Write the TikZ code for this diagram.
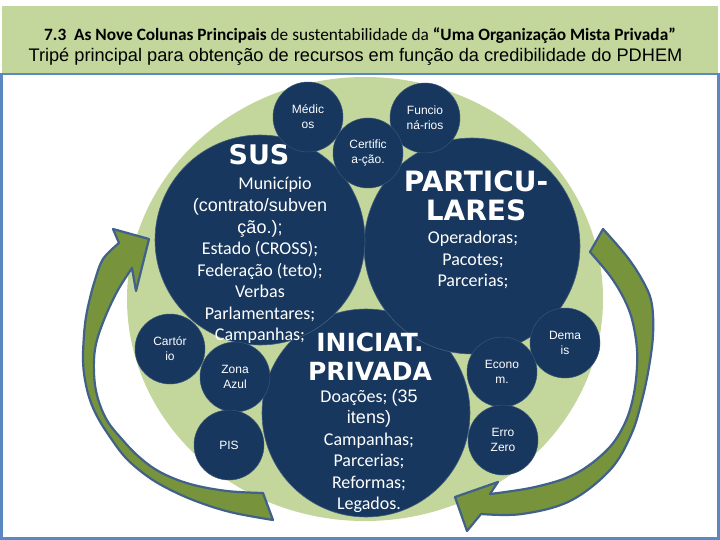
\documentclass[tikz,border=0pt]{standalone}
\usepackage{fontspec}
\setmainfont{Carlito}
\newfontfamily\arial{Liberation Sans}
\newfontfamily\heavy{DejaVu Sans}
\definecolor{hdrgreen}{HTML}{C3D69B}
\definecolor{navy}{HTML}{17375E}
\definecolor{olive}{HTML}{77933C}
\definecolor{arrowedge}{HTML}{41618A}
\definecolor{frameblue}{HTML}{5B88C0}
\tikzset{
  bigc/.style={circle, fill=navy, draw=navy!80!white, line width=0.6pt, inner sep=0pt, minimum size=#1},
  smallc/.style={circle, fill=navy, draw=navy!85!white, line width=0.5pt, inner sep=0pt, minimum size=70pt,
    text=white, align=center, font=\arial\fontsize{12}{15}\selectfont},
  bodytxt/.style={text=white, align=center, inner sep=0pt, font=\fontsize{18}{21.5}\selectfont},
  ttltxt/.style={text=white, align=center, inner sep=0pt, font=\heavy\bfseries\fontsize{#1}{29}\selectfont},
  bigarrow/.style={fill=olive, draw=arrowedge, line width=2.2pt, line join=round},
}
\begin{document}
\begin{tikzpicture}[x=1pt, y=-1pt]
\useasboundingbox (0,0) rectangle (720,540);
\fill[white] (0,0) rectangle (720,540);
% header
\fill[hdrgreen] (2,6) rectangle (718,73);
\node[inner sep=0pt, font=\fontsize{17.3}{19}\selectfont] (title1) at (360,36)
  {\textbf{7.3\ \ As Nove Colunas Principais} de sustentabilidade da \textbf{“Uma Organização Mista Privada”}};
\node[inner sep=0pt, font=\arial\fontsize{18.2}{20}\selectfont] (title2) at (355.5,57)
  {Tripé principal para obtenção de recursos em função da credibilidade do PDHEM};
% big light green circle
\fill[hdrgreen] (365,299) ellipse [x radius=238, y radius=222];
% left arrow
\filldraw[bigarrow] (119,243) -- (113,229) -- (149,239) -- (136,291)
  -- plot[smooth, tension=0.6] coordinates {(132,268) (118,290) (106,315) (97,340) (94,360) (95,385) (100,405) (108,422) (120,437) (138,456) (160,472) (190,484) (227,491) (263,493)}
  -- plot[smooth, tension=0.6] coordinates {(273,520) (230,512) (193,500) (163,486) (143,473) (125,457) (110,437) (98,418) (90,400) (85,380) (83,360) (84,335) (86,317) (90,298) (95,280) (103,259) (119,243)}
  -- cycle;
% right arrow
\filldraw[bigarrow] (603,229) -- (590,252)
  -- plot[smooth, tension=0.6] coordinates {(590,252) (613,280) (629,310) (636,340) (637,367) (633,398) (624,425) (607,450) (575,474) (535,487) (490,494)}
  -- (498,482) -- (455,497) -- (467,531)
  -- plot[smooth, tension=0.6] coordinates {(481,514) (522,514) (570,501) (610,470) (631,435) (642,400) (649,367) (653,335) (652,305) (645,285) (628,258) (603,229)}
  -- cycle;
% big circles
\node[bigc=208pt] (iniciat) at (366,413) {};
\node[bigc=216pt] (partic) at (472,246) {};
\node[bigc=210pt] (sus) at (260,240) {};
% small circles
\node[smallc] (medicos) at (308,117) {Médic\\os};
\node[smallc] (funcio) at (425,118) {Funcio\\ná-rios};
\node[smallc] (certif) at (368,153) {Certific\\a-ção.};
\node[smallc] (cartorio) at (170,349) {Cartór\\io};
\node[smallc] (zona) at (235,377) {Zona\\Azul};
\node[smallc] (pis) at (229,445) {PIS};
\node[smallc] (demais) at (565,343) {Dema\\is};
\node[smallc] (econom) at (502,372) {Econo\\m.};
\node[smallc] (erro) at (503,440) {Erro\\Zero};
% texts of SUS
\node[ttltxt=27] (sustitle) at (259,155) {SUS};
\node[bodytxt] (susmun) at (275,185) {Município};
\node[bodytxt] (susbody) at (260,271) {{\arial(contrato/subven}\\{\arial ção.);}\\Estado (CROSS);\\Federação (teto);\\Verbas\\Parlamentares;\\Campanhas;};
% texts of PARTICULARES
\node[ttltxt=28] (partitle) at (476,196) {PARTICU-\\LARES};
\node[bodytxt] (parbody) at (473,260) {Operadoras;\\Pacotes;\\Parcerias;};
% texts of INICIAT. PRIVADA
\node[ttltxt=25] (initle) at (370,357) {INICIAT.\\PRIVADA};
\node[bodytxt] (inibody) at (369,451) {Doações; {\arial(35}\\{\arial itens)}\\Campanhas;\\Parcerias;\\Reformas;\\Legados.};
% frame
\draw[frameblue, line width=2.5pt] (1.5,74) rectangle (718.5,538.5);
\end{tikzpicture}
\end{document}
